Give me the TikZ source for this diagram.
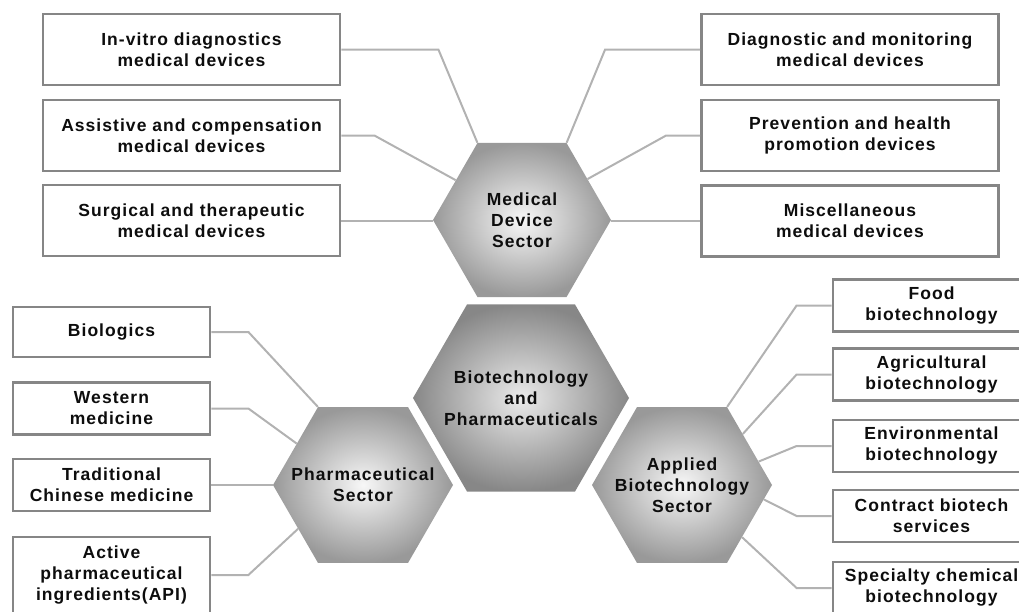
\documentclass[tikz,border=0pt]{standalone}
\usepackage{fontspec}
\setmainfont{Liberation Sans}[LetterSpace=6]
\usetikzlibrary{shapes.geometric}

\begin{document}
\begin{tikzpicture}[x=1pt,y=-1pt]
        \tikzstyle{every node}=[font=\fontsize{17.5}{21}\selectfont\bfseries, text=black!95]
        \tikzstyle{sector}=[regular polygon, regular polygon sides=6, inner sep=0pt,
            shading=radial, inner color=black!3, outer color=black!40]
        \tikzstyle{caption}=[align=center, inner sep=0pt]
        \tikzstyle{leaf}=[draw=gray!95, line width=2.8pt, fill=white, align=center, inner sep=0pt,
            minimum width=297pt, minimum height=71pt]
        \tikzstyle{leafs}=[leaf, minimum width=197pt, minimum height=52pt]
        \tikzstyle{link}=[draw=gray!60, line width=2pt]

        \useasboundingbox (0,0) rectangle (1019,611);
        \clip (0,0) rectangle (1019,611);

        % sectors
        \node[sector, minimum size=216pt, inner color=black!8, outer color=black!47,
            label={[caption]center:{Biotechnology\\and\\Pharmaceuticals}}] (core) at (521,398) {};
        \node[sector, minimum size=178pt, label={[caption]center:{Medical\\Device\\Sector}}] (med) at (522,220) {};
        \node[sector, minimum size=180pt, label={[caption]center:{Pharmaceutical\\Sector}}] (pharma) at (363,485) {};
        \node[sector, minimum size=180pt, label={[caption]center:{Applied\\Biotechnology\\Sector}}] (applied) at (682,485) {};

        % medical devices
        \node[leaf] (invitro) at (191.5,49.5) {In-vitro diagnostics\\medical devices};
        \node[leaf] (assist) at (191.5,135.5) {Assistive and compensation\\medical devices};
        \node[leaf] (surgical) at (191.5,220.5) {Surgical and therapeutic\\medical devices};
        \node[leaf] (diag) at (850,49.5) {Diagnostic and monitoring\\medical devices};
        \node[leaf] (prevent) at (850,135.5) {Prevention and health\\promotion devices};
        \node[leaf] (misc) at (850,221) {Miscellaneous\\medical devices};

        % pharmaceuticals
        \node[leafs, minimum height=50pt] (biologics) at (111.5,332) {Biologics};
        \node[leafs] (western) at (111.5,408.5) {Western\\medicine};
        \node[leafs] (tcm) at (111.5,485) {Traditional\\Chinese medicine};
        \node[leafs, minimum height=76pt] (api) at (111.5,575) {Active\\pharmaceutical\\ingredients(API)};

        % applied biotechnology
        \node[leafs] (food) at (931.5,305.5) {Food\\biotechnology};
        \node[leafs] (agri) at (931.5,374.5) {Agricultural\\biotechnology};
        \node[leafs] (enviro) at (931.5,446) {Environmental\\biotechnology};
        \node[leafs] (contract) at (931.5,516) {Contract biotech\\services};
        \node[leafs] (special) at (931.5,588) {Specialty chemical\\biotechnology};

        \draw[link] (invitro.east) -- ++(97,0) -- (med.120);
        \draw[link] (assist.east) -- ++(33,0) -- (med.149);
        \draw[link] (surgical.east) -- (surgical.east -| med.west);
        \draw[link] (diag.west) -- ++(-95,0) -- (med.60);
        \draw[link] (prevent.west) -- ++(-34,0) -- (med.32);
        \draw[link] (misc.west) -- (misc.west -| med.east);

        \draw[link] (biologics.east) -- ++(37,0) -- (pharma.120);
        \draw[link] (western.east) -- ++(37,0) -- (pharma.148);
        \draw[link] (tcm.east) -- (pharma.west);
        \draw[link] (api.east) -- ++(37,0) -- (pharma.214);

        \draw[link] (food.west) -- ++(-35,0) -- (applied.60);
        \draw[link] (agri.west) -- ++(-35,0) -- (applied.40);
        \draw[link] (enviro.west) -- ++(-35,0) -- (applied.17);
        \draw[link] (contract.west) -- ++(-35,0) -- (applied.-10);
        \draw[link] (special.west) -- ++(-35,0) -- (applied.-41);
    \end{tikzpicture}
\end{document}
